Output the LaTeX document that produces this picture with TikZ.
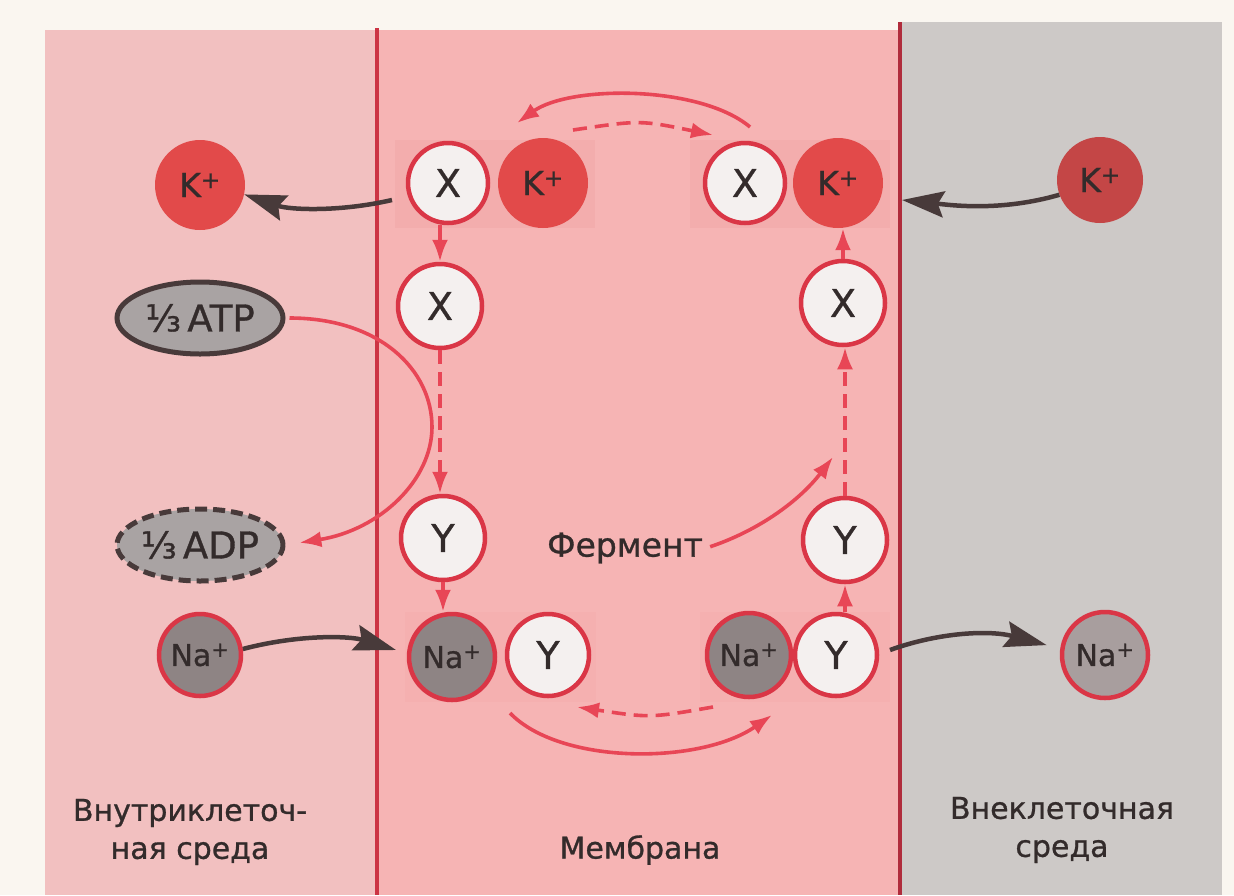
\documentclass[tikz,border=0pt]{standalone}
\usepackage{fontspec}
\setmainfont{DejaVu Sans}[FakeBold=0.9]
\usetikzlibrary{arrows.meta,shapes.geometric}
\definecolor{bgwhite}{HTML}{FAF6F0}
\definecolor{leftpink}{HTML}{F2C0C0}
\definecolor{mempink}{HTML}{F6B4B4}
\definecolor{pairpink}{HTML}{F2AAAA}
\definecolor{outgray}{HTML}{CDC9C7}
\definecolor{memline}{HTML}{CC3444}
\definecolor{memline2}{HTML}{B02C3C}
\definecolor{arrred}{HTML}{E84656}
\definecolor{ringred}{HTML}{DA3646}
\definecolor{kred}{HTML}{E24A4A}
\definecolor{kdark}{HTML}{C44646}
\definecolor{wfill}{HTML}{F4F0EF}
\definecolor{nagray}{HTML}{8E8484}
\definecolor{nagraylight}{HTML}{A89E9E}
\definecolor{ellgray}{HTML}{A9A3A3}
\definecolor{darkarr}{HTML}{483A3A}
\definecolor{txt}{HTML}{332B2B}
\newfontfamily\fracfont{DejaVu Sans}[FakeBold=0.9]
\begin{document}
\begin{tikzpicture}[x=1pt,y=-1pt,
  carrier/.style={circle, draw=ringred, line width=4.5pt, fill=wfill, minimum size=80pt, inner sep=0pt, text=txt, font=\fontsize{38}{38}\selectfont},
  kion/.style={circle, fill=kred, minimum size=90pt, inner sep=0pt, text=txt, font=\fontsize{33}{33}\selectfont},
  naion/.style={circle, draw=ringred, line width=4.5pt, fill=nagray, minimum size=82pt, inner sep=0pt, text=txt, font=\fontsize{30}{30}\selectfont},
  molec/.style={ellipse, draw=darkarr, line width=5pt, fill=ellgray, minimum width=166pt, minimum height=72pt, inner sep=0pt},
  moltext/.style={text=txt, font=\fontsize{37}{37}\selectfont, inner sep=0pt},
  redarr/.style={draw=arrred, line width=3.6pt, -{Latex[length=22pt,width=16pt]}},
  reddash/.style={redarr, dash pattern=on 14pt off 8pt},
  darkarrow/.style={draw=darkarr, line width=4.5pt, -{Stealth[length=42pt,width=26pt,inset=6pt]}},
  lbl/.style={text=txt, font=\fontsize{30}{38}\selectfont, align=center}
]
\useasboundingbox (0,0) rectangle (1234,895);
% panels
\fill[bgwhite] (0,0) rectangle (1234,895);
\fill[leftpink] (45,30) rectangle (377,895);
\fill[mempink] (377,30) rectangle (900,895);
\fill[outgray] (900,22) rectangle (1222,895);
\fill[pairpink!70!mempink] (395,140) rectangle (595,228);
\fill[pairpink!70!mempink] (690,140) rectangle (890,228);
\fill[pairpink!35!mempink] (405,612) rectangle (596,702);
\fill[pairpink!35!mempink] (700,612) rectangle (890,702);
\draw[memline, line width=4pt] (377,28) -- (377,895);
\draw[memline2, line width=4.5pt] (900,22) -- (900,895);

% nodes
\node[kion] (kin) at (200,185) {K\textsuperscript{+}};
\node[carrier] (X1) at (448,183) {X};
\node[kion] (K1) at (543,183) {K\textsuperscript{+}};
\node[carrier] (X2) at (745,183) {X};
\node[kion] (K2) at (838,183) {K\textsuperscript{+}};
\node[kion, fill=kdark, minimum size=86pt] (kout) at (1100,180) {K\textsuperscript{+}};
\node[carrier, minimum size=84pt] (X1b) at (440,306) {X};
\node[carrier, minimum size=84pt] (X2b) at (843,303) {X};
\node[molec] (atp) at (200,318) {};
\node[moltext] (atpt) at (atp) {{\fracfont ⅓}\,ATP};
\node[molec, dashed, dash pattern=on 12pt off 6pt] (adp) at (200,545) {};
\node[moltext] (adpt) at (adp) {{\fracfont ⅓}\,ADP};
\node[carrier, minimum size=84pt] (Y1) at (443,538) {Y};
\node[carrier, minimum size=84pt] (Y2) at (845,540) {Y};
\node[lbl, font=\fontsize{33}{38}\selectfont] (ferm) at (625,548) {Фермент};
\node[naion] (nain) at (200,655) {Na\textsuperscript{+}};
\node[naion, minimum size=86pt] (Na1) at (452,657) {Na\textsuperscript{+}};
\node[carrier, minimum size=82pt] (Y1b) at (548,655) {Y};
\node[naion, minimum size=84pt] (Na2) at (749,655) {Na\textsuperscript{+}};
\node[carrier, minimum size=82pt] (Y2b) at (836,655) {Y};
\node[naion, fill=nagraylight, minimum size=86pt] (naout) at (1105,655) {Na\textsuperscript{+}};
\node[lbl] (lin) at (190,832) {Внутриклеточ-\\ная среда};
\node[lbl] (lmem) at (640,850) {Мембрана};
\node[lbl] (lout) at (1062,830) {Внеклеточная\\среда};

% helper coordinates
\coordinate (ks1) at (392,200);
\coordinate (ktip2) at (902,200);
\coordinate (natip1) at (396,650);
\coordinate (nas2) at (890,650);
\coordinate (ta1) at (750,127);
\coordinate (ta2) at (517,123);
\coordinate (td1) at (573,130);
\coordinate (td2) at (713,135);
\coordinate (ba1) at (510,713);
\coordinate (ba2) at (772,715);
\coordinate (bd1) at (713,707);
\coordinate (bd2) at (577,707);

% dark transport arrows
\draw[darkarrow] (ks1) .. controls (340,212) and (290,210) .. (kin.-12);
\draw[darkarrow] (kout.200) .. controls (1000,212) and (950,205) .. (ktip2);
\draw[darkarrow] (nain.8) .. controls (300,634) and (350,636) .. (natip1);
\draw[darkarrow, shorten >=14pt] (nas2) .. controls (940,632) and (990,630) .. (naout.172);

% top cycle arcs
\draw[redarr] (ta1) .. controls (700,85) and (570,85) .. (ta2);
\draw[reddash] (td1) .. controls (640,120) .. (td2);
% bottom cycle arcs
\draw[redarr] (ba1) .. controls (560,765) and (700,765) .. (ba2);
\draw[reddash] (bd1) .. controls (650,718) .. (bd2);

% vertical steps, left column
\draw[redarr] (X1.south -| X1b) -- (X1b.north);
\draw[reddash] (X1b.south) -- (Y1.north -| X1b);
\draw[redarr] (Y1.south) -- (Y1.south |- Na1.north);
% vertical steps, right column
\draw[redarr] (Y2b.north -| Y2) -- (Y2.south);
\draw[reddash] (Y2.north) -- (X2b.south -| Y2);
\draw[redarr] (X2b.north) -- (X2b.north |- K2.south);

% ATP -> ADP
\draw[redarr, shorten <=4pt, shorten >=14pt] (atp.east) .. controls (380,318) and (432,370) .. (432,427) .. controls (432,480) and (380,530) .. (adp.east);
% enzyme
\draw[redarr, shorten <=4pt] (ferm.east) .. controls (760,530) and (800,500) .. (833,457);
\end{tikzpicture}
\end{document}
